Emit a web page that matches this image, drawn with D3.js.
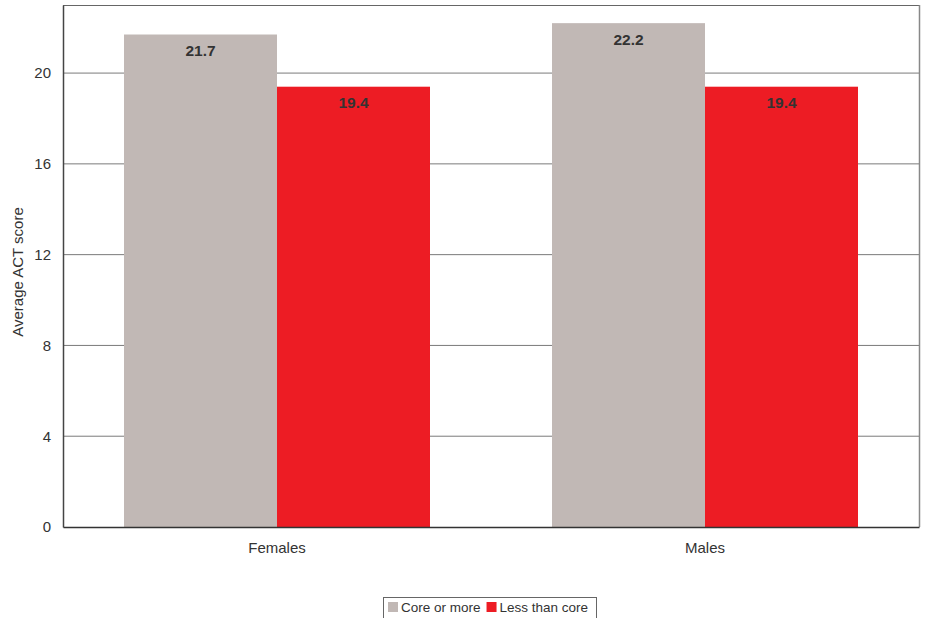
<!DOCTYPE html>
<html><head><meta charset="utf-8">
<script src="https://cdn.jsdelivr.net/npm/d3@7"></script>
<style>body{margin:0;background:#fff;} text{font-family:"Liberation Sans",Arial,sans-serif;}</style>
</head><body><svg id="c" width="925" height="618"></svg>
<script>
const categories = ["Females", "Males"];
const seriesNames = ["Core or more", "Less than core"];
const coreOrMore = [21.7, 22.2];
const lessThanCore = [19.4, 19.4];
const yTicks = [0, 4, 8, 12, 16, 20];
const colors = ["#c1b8b5", "#ed1c24"];

const svg = d3.select("#c");
const m = {l: 63, r: 919, t: 5, b: 527};
const x = d3.scaleBand().domain(categories).range([m.l, m.r]).paddingInner(0).paddingOuter(0);
const x1 = d3.scaleBand().domain(seriesNames).range([61, x.bandwidth() - 61]);
const y = d3.scaleLinear().domain([0, 23]).range([m.b, m.t]);

// gridlines
svg.append("g").selectAll("line").data(yTicks.filter(d => d > 0)).join("line")
  .attr("x1", m.l).attr("x2", m.r).attr("y1", d => y(d)).attr("y2", d => y(d))
  .attr("stroke", "#7a7a7a").attr("stroke-width", 1);

const data = categories.map((c, i) => ({cat: c, vals: [coreOrMore[i], lessThanCore[i]]}));
const g = svg.append("g");
data.forEach(d => {
  d.vals.forEach((v, j) => {
    const bx = x(d.cat) + x1(seriesNames[j]);
    g.append("rect").attr("x", bx).attr("y", y(v)).attr("width", x1.bandwidth())
      .attr("height", y(0) - y(v)).attr("fill", colors[j]);
    g.append("text").attr("x", bx + x1.bandwidth() / 2).attr("y", y(v) + 21.5)
      .attr("text-anchor", "middle").attr("font-size", 15.5).attr("font-weight", "bold")
      .attr("fill", "#333").text(v.toFixed(1));
  });
});

// frame
svg.append("line").attr("x1", m.l).attr("x2", m.r).attr("y1", m.t + 0.5).attr("y2", m.t + 0.5).attr("stroke", "#666");
svg.append("line").attr("x1", m.r + 0.5).attr("x2", m.r + 0.5).attr("y1", m.t).attr("y2", m.b).attr("stroke", "#888").attr("stroke-width", 1.5);

// axes
const yAxis = d3.axisLeft(y).tickValues(yTicks).tickSize(0).tickPadding(12);
const ya = svg.append("g").attr("transform", `translate(${m.l},0)`).call(yAxis);
ya.select(".domain").attr("stroke", "#444").attr("stroke-width", 1.5);
ya.selectAll("text").attr("font-size", 15).attr("fill", "#333").attr("font-family", "Liberation Sans, Arial, sans-serif");

const xAxis = d3.axisBottom(x).tickSize(0).tickPadding(15);
const xa = svg.append("g").attr("transform", `translate(0,${m.b})`).call(xAxis);
xa.select(".domain").attr("stroke", "#333").attr("stroke-width", 1.5);
xa.selectAll("text").attr("font-size", 15).attr("fill", "#333").attr("font-family", "Liberation Sans, Arial, sans-serif");

svg.append("text").attr("transform", `translate(23,${(m.t + m.b) / 2 + 6}) rotate(-90)`)
  .attr("text-anchor", "middle").attr("font-size", 15).attr("fill", "#333").text("Average ACT score");

// legend
const lg = svg.append("g");
lg.append("rect").attr("x", 383.5).attr("y", 597.5).attr("width", 213).attr("height", 24)
  .attr("fill", "#fff").attr("stroke", "#666");
let lx = 388;
seriesNames.forEach((s, i) => {
  lg.append("rect").attr("x", lx).attr("y", 602).attr("width", 10).attr("height", 10).attr("fill", colors[i]);
  const t = lg.append("text").attr("x", lx + 13).attr("y", 612).attr("font-size", 13.5).attr("fill", "#333").text(s);
  lx += 13 + t.node().getComputedTextLength() + 6;
});
</script></body></html>
